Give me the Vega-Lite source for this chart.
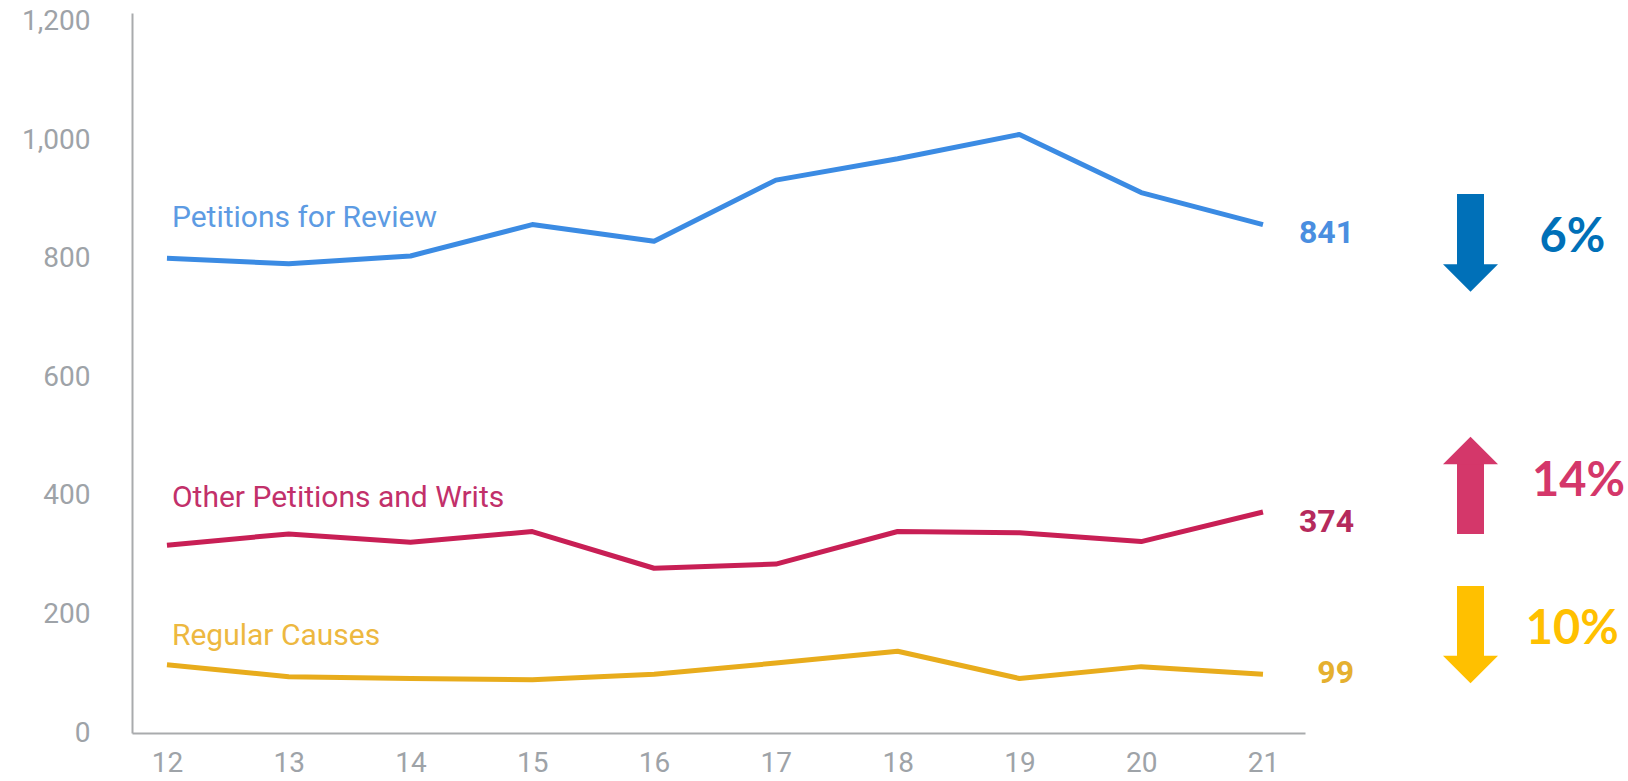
{
  "$schema": "https://vega.github.io/schema/vega-lite/v6.json",
  "width": 1496,
  "height": 720,
  "autosize": {"type": "none"},
  "padding": {"left": 132, "top": 13, "right": 0, "bottom": 48},
  "background": "white",
  "config": {"view": {"stroke": null}, "font": "Roboto"},
  "datasets": {
    "counts": [
      {"year": 12, "series": "Petitions for Review", "count": 801},
      {"year": 13, "series": "Petitions for Review", "count": 792},
      {"year": 14, "series": "Petitions for Review", "count": 805},
      {"year": 15, "series": "Petitions for Review", "count": 858},
      {"year": 16, "series": "Petitions for Review", "count": 830},
      {"year": 17, "series": "Petitions for Review", "count": 933},
      {"year": 18, "series": "Petitions for Review", "count": 969},
      {"year": 19, "series": "Petitions for Review", "count": 1010},
      {"year": 20, "series": "Petitions for Review", "count": 912},
      {"year": 21, "series": "Petitions for Review", "count": 858},
      {"year": 12, "series": "Other Petitions and Writs", "count": 317},
      {"year": 13, "series": "Other Petitions and Writs", "count": 336},
      {"year": 14, "series": "Other Petitions and Writs", "count": 322},
      {"year": 15, "series": "Other Petitions and Writs", "count": 340},
      {"year": 16, "series": "Other Petitions and Writs", "count": 278},
      {"year": 17, "series": "Other Petitions and Writs", "count": 285},
      {"year": 18, "series": "Other Petitions and Writs", "count": 340},
      {"year": 19, "series": "Other Petitions and Writs", "count": 338},
      {"year": 20, "series": "Other Petitions and Writs", "count": 323},
      {"year": 21, "series": "Other Petitions and Writs", "count": 373},
      {"year": 12, "series": "Regular Causes", "count": 115},
      {"year": 13, "series": "Regular Causes", "count": 95},
      {"year": 14, "series": "Regular Causes", "count": 92},
      {"year": 15, "series": "Regular Causes", "count": 90},
      {"year": 16, "series": "Regular Causes", "count": 99},
      {"year": 17, "series": "Regular Causes", "count": 118},
      {"year": 18, "series": "Regular Causes", "count": 138},
      {"year": 19, "series": "Regular Causes", "count": 92},
      {"year": 20, "series": "Regular Causes", "count": 112},
      {"year": 21, "series": "Regular Causes", "count": 99}
    ],
    "names": [
      {"series": "Petitions for Review", "x": 12.041, "y": 869},
      {"series": "Other Petitions and Writs", "x": 12.041, "y": 396.6},
      {"series": "Regular Causes", "x": 12.041, "y": 163.7}
    ],
    "ends": [
      {"series": "Petitions for Review", "text": "841", "x": 21.748, "y": 843.8},
      {"series": "Other Petitions and Writs", "text": "374", "x": 21.748, "y": 356},
      {"series": "Regular Causes", "text": "99", "x": 21.748, "y": 101}
    ],
    "arrows": [
      {"series": "Petitions for Review", "dir": "down", "x": 22.704, "shaftFrom": 909.6, "headBase": 789.8, "headCenter": 767.8, "pct": "6%", "pctX": 23.54, "pctY": 835},
      {"series": "Other Petitions and Writs", "dir": "up", "x": 22.704, "shaftFrom": 335.8, "headBase": 455.6, "headCenter": 476.7, "pct": "14%", "pctX": 23.59, "pctY": 423.6},
      {"series": "Regular Causes", "dir": "down", "x": 22.704, "shaftFrom": 248.1, "headBase": 128.3, "headCenter": 107.2, "pct": "10%", "pctX": 23.54, "pctY": 173.8}
    ]
  },
  "layer": [
    {
      "data": {"name": "counts"},
      "mark": {"type": "line", "strokeWidth": 5, "strokeJoin": "round"},
      "encoding": {
        "x": {
          "field": "year", "type": "quantitative", "title": null,
          "scale": {"domain": [11.713, 21.345], "range": [0, 1173], "nice": false, "zero": false},
          "axis": {
            "title": null, "values": [12, 13, 14, 15, 16, 17, 18, 19, 20, 21], "format": "d",
            "ticks": false, "grid": false, "domainColor": "#a9abad", "domainWidth": 2,
            "labelFont": "Roboto", "labelFontSize": 28, "labelColor": "#9ea3a8", "labelPadding": 16
          }
        },
        "y": {
          "field": "count", "type": "quantitative", "title": null,
          "scale": {"domain": [0, 1215], "nice": false},
          "axis": {
            "title": null, "values": [0, 200, 400, 600, 800, 1000, 1200], "format": ",.0f",
            "ticks": false, "grid": false, "domainColor": "#a9abad", "domainWidth": 2,
            "labelFont": "Roboto", "labelFontSize": 28, "labelColor": "#9ea3a8", "labelPadding": 42
          }
        },
        "color": {
          "field": "series", "type": "nominal", "legend": null,
          "scale": {"domain": ["Petitions for Review", "Other Petitions and Writs", "Regular Causes"], "range": ["#3b8be3", "#c81f55", "#e8ac1c"]}
        }
      }
    },
    {
      "data": {"name": "names"},
      "mark": {"type": "text", "align": "left", "baseline": "middle", "font": "Roboto", "fontSize": 30},
      "encoding": {
        "x": {"field": "x", "type": "quantitative", "title": null},
        "y": {"field": "y", "type": "quantitative", "title": null},
        "text": {"field": "series"},
        "color": {
          "field": "series", "type": "nominal", "legend": null,
          "scale": {"domain": ["Petitions for Review", "Other Petitions and Writs", "Regular Causes"], "range": ["#5d9be3", "#c2306a", "#edb840"]}
        }
      }
    },
    {
      "data": {"name": "ends"},
      "mark": {"type": "text", "align": "right", "baseline": "middle", "font": "Roboto", "fontSize": 32, "fontWeight": "bold"},
      "encoding": {
        "x": {"field": "x", "type": "quantitative", "title": null},
        "y": {"field": "y", "type": "quantitative", "title": null},
        "text": {"field": "text"},
        "color": {
          "field": "series", "type": "nominal", "legend": null,
          "scale": {"domain": ["Petitions for Review", "Other Petitions and Writs", "Regular Causes"], "range": ["#4a8ee0", "#b52a5c", "#e5b02f"]}
        }
      }
    },
    {
      "data": {"name": "arrows"},
      "mark": {"type": "rule", "strokeWidth": 27, "strokeCap": "butt"},
      "encoding": {
        "x": {"field": "x", "type": "quantitative", "title": null},
        "y": {"field": "shaftFrom", "type": "quantitative", "title": null},
        "y2": {"field": "headBase"},
        "color": {
          "field": "series", "type": "nominal", "legend": null,
          "scale": {"domain": ["Petitions for Review", "Other Petitions and Writs", "Regular Causes"], "range": ["#0070b8", "#d4376a", "#ffc000"]}
        }
      }
    },
    {
      "data": {"name": "arrows"},
      "mark": {"type": "point", "filled": true, "opacity": 1, "size": 3025, "strokeWidth": 0},
      "encoding": {
        "x": {"field": "x", "type": "quantitative", "title": null},
        "y": {"field": "headCenter", "type": "quantitative", "title": null},
        "shape": {
          "field": "dir", "type": "nominal", "legend": null,
          "scale": {"domain": ["down", "up"], "range": ["M-1,-0.5L1,-0.5L0,0.5Z", "M-1,0.5L1,0.5L0,-0.5Z"]}
        },
        "color": {
          "field": "series", "type": "nominal", "legend": null,
          "scale": {"domain": ["Petitions for Review", "Other Petitions and Writs", "Regular Causes"], "range": ["#0070b8", "#d4376a", "#ffc000"]}
        }
      }
    },
    {
      "data": {"name": "arrows"},
      "mark": {"type": "text", "align": "center", "baseline": "middle", "font": "Lato", "fontSize": 47, "fontWeight": "bold"},
      "encoding": {
        "x": {"field": "pctX", "type": "quantitative", "title": null},
        "y": {"field": "pctY", "type": "quantitative", "title": null},
        "text": {"field": "pct"},
        "color": {
          "field": "series", "type": "nominal", "legend": null,
          "scale": {"domain": ["Petitions for Review", "Other Petitions and Writs", "Regular Causes"], "range": ["#0070b8", "#d4376a", "#ffc000"]}
        }
      }
    }
  ],
  "resolve": {"scale": {"color": "independent"}}
}
